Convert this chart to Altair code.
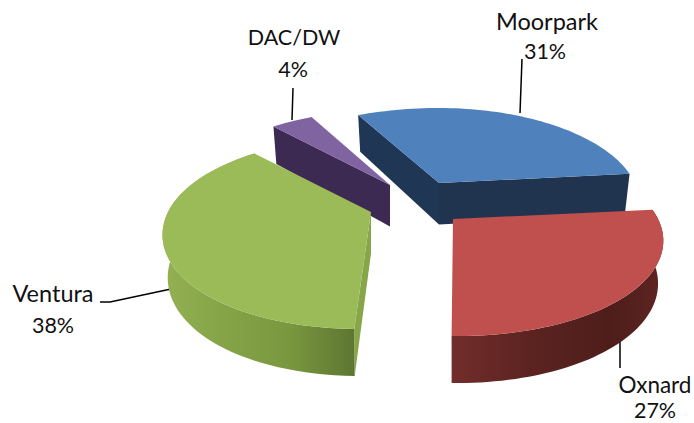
import math
import altair as alt
import pandas as pd

categories = ["Moorpark", "Oxnard", "Ventura", "DAC/DW"]
shares = [31, 27, 38, 4]
label_lines = ["31%", "27%", "38%", "4%"]

# layout (image pixels)
START_ANGLE = -27.5
APEX = {"Moorpark": (439, 183), "Oxnard": (453, 219), "Ventura": (371, 212), "DAC/DW": (390, 185)}
X_STRETCH = {"Moorpark": (1.03, 0.965), "Oxnard": (1.0, 1.01), "Ventura": (1.0, 1.0), "DAC/DW": (1.0, 1.0)}
NAME_POS = {"Moorpark": (547, 23), "Oxnard": (655, 386), "Ventura": (53, 295), "DAC/DW": (294, 39)}
NAME_SIZE = {"Moorpark": 23.5, "Oxnard": 22.5, "Ventura": 23.5, "DAC/DW": 21.5}
PCT_POS = {"Moorpark": (545, 53), "Oxnard": (655, 412), "Ventura": (53, 327), "DAC/DW": (293, 71)}
LEADERS = [
    [(522, 59), (520, 113)],
    [(620, 339), (620, 368)],
    [(100, 302), (110, 302), (171, 289)],
    [(293, 88), (292, 120)],
]
RX, RY, K, VPX, SKEW = 203.0, 91.4, -0.219, 429.0, 0.0016


def pt(name, theta, level=0):
    ax, ay = APEX[name]
    u, v = math.sin(math.radians(theta)), -math.cos(math.radians(theta))
    d = 1 + K * v
    x, y = RX * u / d, RY * v / d
    x *= X_STRETCH[name][0 if x < 0 else 1]
    if v > 0:
        x += (ax - VPX) * SKEW * y * v
    if level:
        return [ax + x * 0.975, ay + y + 41.5 + 5.5 * v]
    return [ax + x, ay + y]


def apex(name, level=0):
    ax, ay = APEX[name]
    return [ax, ay + (41.5 if level else 0)]


spans, a = {}, START_ANGLE
for c, s in zip(categories, shares):
    spans[c] = (a, a + s * 3.6)
    a += s * 3.6


def arc(name, level=0):
    t0, t1 = spans[name]
    n = 60
    return [pt(name, t0 + (t1 - t0) * i / n, level) for i in range(n + 1)]


def top(name):
    return [apex(name)] + arc(name) + [apex(name)]


def band(name):
    r = arc(name) + arc(name, 1)[::-1]
    return r + [r[0]]


def radial(name, theta):
    r = [apex(name), pt(name, theta), pt(name, theta, 1), apex(name, 1)]
    return r + [r[0]]


def grad(*stops):
    return alt.LinearGradient(
        gradient="linear", x1=0, x2=1, y1=0, y2=0,
        stops=[alt.GradientStop(offset=o, color=c) for o, c in stops],
    )


def poly(ring, fill):
    feature = {"type": "Feature", "properties": {},
               "geometry": {"type": "Polygon", "coordinates": [ring]}}
    return alt.Chart(alt.InlineData(values=[feature], format=alt.DataFormat(type="json"))).mark_geoshape(
        fill=fill, stroke=None, strokeWidth=0)


def path(pts):
    feature = {"type": "Feature", "properties": {},
               "geometry": {"type": "LineString", "coordinates": [list(p) for p in pts]}}
    return alt.Chart(alt.InlineData(values=[feature], format=alt.DataFormat(type="json"))).mark_geoshape(
        filled=False, fill=None, stroke="#000000", strokeWidth=1.5)


M, O, V, D = categories
layers = [path(l) for l in LEADERS]
layers += [
    poly(radial(D, spans[D][0]), "#3d2a52"),
    poly(top(D), "#8064a2"),
    poly(radial(M, spans[M][0]), "#1f3655"),
    poly(radial(M, spans[M][1]), "#20344f"),
    poly(top(M), "#4f81bd"),
    poly(band(O), grad((0, "#722d2a"), (0.35, "#5c2421"), (0.75, "#4e1d1a"), (1, "#5e2522"))),
    poly(top(O), "#c0504d"),
    poly(radial(V, spans[V][0]), "#86a648"),
    poly(band(V), grad((0, "#93b152"), (0.3, "#86a548"), (0.65, "#7a983f"), (1, "#5d7631"))),
    poly(top(V), "#9bbb59"),
]

names = pd.DataFrame({"lon": [NAME_POS[c][0] for c in categories],
                      "lat": [NAME_POS[c][1] for c in categories], "t": categories,
                      "sz": [NAME_SIZE[c] for c in categories]})
pcts = pd.DataFrame({"lon": [PCT_POS[c][0] for c in categories],
                     "lat": [PCT_POS[c][1] for c in categories], "t": label_lines,
                     "sz": [21.5] * 4})
for df in (names, pcts):
    layers.append(alt.Chart(df).mark_text(font="Lato", color="#111111",
                                          align="center", baseline="middle").encode(
        longitude="lon:Q", latitude="lat:Q", text="t:N",
        size=alt.Size("sz:Q", scale=None, legend=None)))

chart = alt.layer(*layers).properties(
    width=686, height=415, padding=0, background="white",
    projection=alt.Projection(type="identity", scale=1, translate=[-8, -8]),
).configure_view(stroke=None)

chart.save("out.html", embed_options={
    "renderer": "svg", "actions": False,
    "defaultStyle": "body{margin-bottom:0;margin-right:0} svg{display:block}",
})
